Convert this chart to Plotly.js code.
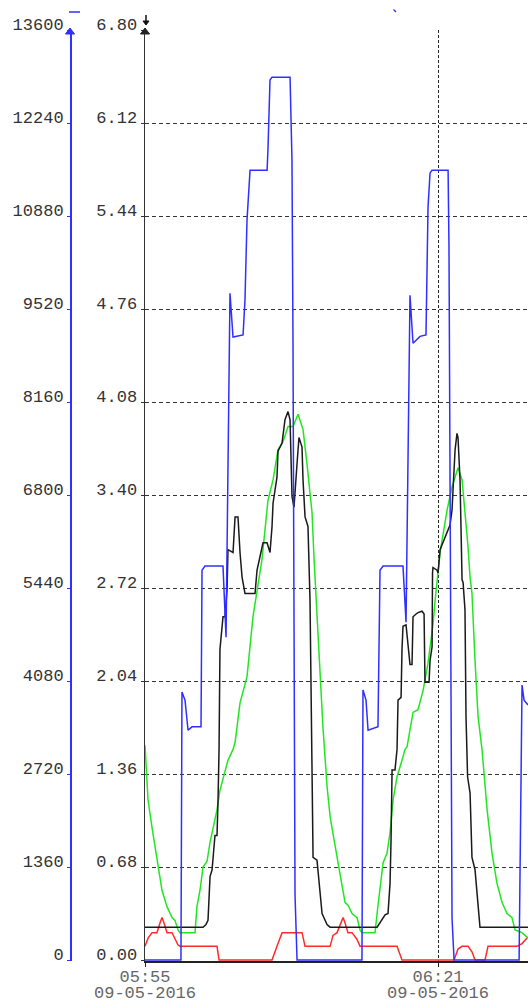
<!DOCTYPE html>
<html>
<head>
<meta charset="utf-8">
<script src="https://cdn.plot.ly/plotly-3.0.1.min.js"></script>
<style>
  html, body { margin: 0; padding: 0; background: #fff; }
  #chart { width: 528px; height: 1001px; }
</style>
</head>
<body>
<div id="chart"></div>
<script>
// Time is in minutes after 05:55 on 09-05-2016.

// Power (left, blue scale)
const powerTime = [0, 3.19, 3.28, 3.55, 3.82, 4.17, 4.97, 5.06, 5.32, 6.92, 7.19, 7.36, 7.54, 7.81, 8.70, 8.87, 9.05, 9.32, 10.83, 10.91, 11.09, 11.27, 12.87, 13.04, 13.13, 13.31, 13.49,
  19.25, 19.34, 19.61, 19.79, 20.67, 20.85, 21.12, 22.89, 23.16, 23.34, 23.51, 23.78, 24.40, 24.93, 25.02, 25.11, 25.29, 25.47, 26.89, 26.97, 27.24, 27.42,
  33.19, 33.36, 33.45, 33.63, 33.98];
const powerValue = [0, 0, 3920, 3800, 3360, 3410, 3410, 5700, 5760, 5760, 4720, 7460, 9750, 9110, 9140, 9650, 10820, 11550, 11550, 11850, 12870, 12910, 12910, 11700, 9070, 950, 0,
  0, 3950, 3800, 3360, 3410, 5700, 5760, 5760, 4940, 7460, 9720, 9020, 9120, 9140, 10190, 11010, 11510, 11550, 11550, 10430, 610, 0,
  0, 2240, 4020, 3800, 3730];

// Measured value (right, black scale)
const measTime = [0, 5.15, 5.41, 5.59, 5.77, 5.95, 6.21, 6.39, 6.48, 6.57, 6.65, 6.92, 7.10, 7.28, 7.36, 7.81, 7.99, 8.25, 8.43, 8.61, 8.87, 9.76, 9.94, 10.20, 10.47, 10.83, 11.09, 11.27, 11.36, 11.71, 11.80, 12.16, 12.42, 12.69, 12.87, 13.04, 13.22, 13.49, 13.66, 13.93, 14.02, 14.20, 14.46, 14.64, 14.82, 14.91, 15.26, 15.53, 15.71, 16.15, 16.42,
  20.59, 20.85, 21.30, 21.56, 21.74, 21.83, 21.92, 22.18, 22.36, 22.45, 22.72, 22.80, 22.89, 23.16, 23.34, 23.51, 23.69, 23.78, 24.05, 24.22, 24.58, 24.76, 24.84, 25.20, 25.29, 25.47, 25.51, 25.55, 25.91, 26.00, 26.18, 26.44, 26.80, 26.89, 27.06, 27.24, 27.33, 27.51, 27.68, 27.77, 27.95, 28.04, 28.13, 28.22, 28.39, 28.48, 28.57, 28.62, 28.84, 29.01, 29.28, 29.46, 29.72, 33.98];
const measValue = [0.24, 0.24, 0.26, 0.29, 0.61, 0.66, 0.91, 0.91, 1.17, 1.54, 2.27, 2.51, 2.51, 2.71, 3.00, 2.98, 3.24, 3.24, 2.98, 2.80, 2.68, 2.68, 2.85, 2.95, 3.05, 3.05, 2.98, 3.17, 3.34, 3.53, 3.72, 3.78, 3.95, 4.01, 3.95, 3.39, 3.31, 3.63, 3.82, 3.75, 3.51, 3.24, 3.17, 2.63, 1.59, 0.75, 0.73, 0.46, 0.34, 0.26, 0.24,
  0.24, 0.27, 0.33, 0.34, 0.56, 0.88, 1.39, 1.39, 1.54, 1.90, 1.92, 2.27, 2.44, 2.45, 2.32, 2.16, 2.16, 2.51, 2.53, 2.54, 2.55, 2.53, 2.03, 2.03, 2.19, 2.29, 2.83, 2.87, 2.85, 2.83, 3.00, 3.05, 3.12, 3.14, 3.18, 3.29, 3.42, 3.73, 3.85, 3.82, 3.51, 3.20, 2.78, 2.76, 2.56, 1.78, 1.54, 1.34, 1.22, 0.75, 0.66, 0.49, 0.24, 0.24];

// Setpoint curve (right, green)
const setTime = [0, 0.27, 0.62, 1.06, 1.51, 1.95, 2.40, 2.66, 2.93, 3.11, 4.44, 4.61, 4.88, 5.15, 5.50, 5.77, 5.95, 6.39, 6.65, 7.10, 7.36, 7.81, 7.99, 8.43, 9.05, 9.58, 10.03, 10.38, 10.91, 11.36, 11.80, 12.24, 12.69, 13.13, 13.58, 14.02, 14.37, 14.82, 15.00, 15.26, 15.53, 15.79, 16.15, 16.42, 16.77, 17.30, 17.75, 18.01, 18.37, 18.81, 19.08, 19.25,
  20.41, 20.59, 20.85, 21.12, 21.47, 21.74, 22.01, 22.36, 22.80, 23.07, 23.25, 23.78, 24.22, 24.67, 25.11, 25.55, 25.73, 26.18, 26.80, 27.24, 27.51, 27.77, 28.13, 28.39, 28.66, 28.84, 29.01, 29.28, 29.55, 29.90, 30.35, 30.79, 31.23, 31.68, 32.12, 32.56, 32.83, 33.45, 33.98];
const setValue = [1.57, 1.17, 0.97, 0.73, 0.51, 0.39, 0.31, 0.29, 0.22, 0.20, 0.20, 0.39, 0.51, 0.68, 0.72, 0.86, 0.93, 1.10, 1.24, 1.37, 1.46, 1.54, 1.59, 1.88, 2.07, 2.51, 2.76, 2.93, 3.36, 3.51, 3.73, 3.79, 3.90, 3.90, 3.99, 3.88, 3.63, 3.27, 2.93, 2.51, 2.05, 1.70, 1.27, 1.05, 0.88, 0.64, 0.42, 0.40, 0.34, 0.31, 0.22, 0.20,
  0.20, 0.34, 0.53, 0.71, 0.78, 0.93, 1.17, 1.34, 1.46, 1.54, 1.56, 1.81, 1.83, 1.97, 2.17, 2.45, 2.62, 2.98, 3.29, 3.46, 3.53, 3.60, 3.51, 3.29, 3.02, 2.80, 2.68, 2.19, 1.78, 1.54, 1.10, 0.78, 0.56, 0.42, 0.34, 0.31, 0.22, 0.20, 0.16];

// Auxiliary signal (right, red)
const auxTime = [0, 0.27, 0.62, 1.06, 1.33, 1.51, 1.69, 1.95, 2.40, 2.66, 2.93, 3.11, 6.39, 6.57, 11.27, 11.71, 12.16, 13.93, 14.20, 16.42, 16.68, 17.04, 17.48, 17.57, 17.75, 18.01, 18.37, 18.81, 19.08, 22.36, 22.80, 27.42, 27.77, 28.13, 28.66, 29.01, 29.28, 30.17, 30.43, 33.01, 33.45, 33.89];
const auxValue = [0.10, 0.16, 0.20, 0.20, 0.27, 0.31, 0.27, 0.20, 0.20, 0.15, 0.11, 0.10, 0.10, 0, 0, 0.10, 0.20, 0.20, 0.10, 0.10, 0.18, 0.20, 0.29, 0.31, 0.27, 0.20, 0.20, 0.15, 0.10, 0.10, 0, 0, 0.08, 0.10, 0.10, 0.06, 0, 0, 0.10, 0.10, 0.12, 0.16];

// Axis ticks
const valueTicks = [0, 0.68, 1.36, 2.04, 2.72, 3.40, 4.08, 4.76, 5.44, 6.12, 6.80];
const powerTicks = [0, 1360, 2720, 4080, 5440, 6800, 8160, 9520, 10880, 12240, 13600];
const timeTicks = [0, 26];
const timeLabels = ['05:55', '06:21'];
const dateLabels = ['09-05-2016', '09-05-2016'];

const W = 528, H = 1001;
const LEFT = 145, TOP = 30, ZERO = 960, BLUE_AXIS = 70;
// the frame sits one pixel under the zero level so lines resting on zero stay visible
const PX_PER_UNIT = (ZERO - TOP) / 6.8;
const VALUE_MIN = -1 / PX_PER_UNIT;
const POWER_MIN = VALUE_MIN * 13600 / 6.8;
const FRAME_BOTTOM = ZERO + 1;
const fx = p => p / W;
const fy = p => (FRAME_BOTTOM - p) / (FRAME_BOTTOM - TOP);
const FONT = 'Liberation Mono, Courier New, monospace';
const BLUE = '#2f2fff';

const line = (x, y, color, axis) => ({
  x, y, type: 'scatter', mode: 'lines', yaxis: axis,
  line: { color, width: 1.5, shape: 'linear' }, hoverinfo: 'skip'
});

const traces = [
  line(auxTime, auxValue, '#ff2a2a', 'y'),
  line(setTime, setValue, '#22e622', 'y'),
  line(measTime, measValue, '#1a1a1a', 'y'),
  line(powerTime, powerValue, BLUE, 'y2')
];

const shapes = [
  // arrowheads on the two value axes
  { type: 'path', xref: 'paper', yref: 'paper', fillcolor: '#222', line: { color: '#222', width: 1 },
    path: `M${fx(LEFT - 4.5)},${fy(34)} L${fx(LEFT)},${fy(28)} L${fx(LEFT + 4.5)},${fy(34)} Z` },
  { type: 'path', xref: 'paper', yref: 'paper', fillcolor: BLUE, line: { color: BLUE, width: 1 },
    path: `M${fx(BLUE_AXIS - 4.5)},${fy(34)} L${fx(BLUE_AXIS)},${fy(28)} L${fx(BLUE_AXIS + 4.5)},${fy(34)} Z` },
  // small down arrow above the value axis
  { type: 'line', xref: 'paper', yref: 'paper', x0: fx(LEFT + 1), x1: fx(LEFT + 1), y0: fy(15), y1: fy(24),
    line: { color: '#111', width: 1.5 } },
  { type: 'path', xref: 'paper', yref: 'paper', fillcolor: '#111', line: { color: '#111', width: 1 },
    path: `M${fx(LEFT - 2)},${fy(21)} L${fx(LEFT + 4)},${fy(21)} L${fx(LEFT + 1)},${fy(25)} Z` },
  // blue markers at the top edge
  { type: 'line', xref: 'paper', yref: 'paper', x0: fx(69), x1: fx(80), y0: fy(12), y1: fy(12),
    line: { color: BLUE, width: 1.5 } },
  { type: 'line', xref: 'paper', yref: 'paper', x0: fx(393.5), x1: fx(396), y0: fy(9.5), y1: fy(12),
    line: { color: BLUE, width: 1.2 } }
];

const annotations = timeTicks.map((t, i) => ({
  x: t, xref: 'x', y: fy(994), yref: 'paper', text: dateLabels[i], showarrow: false,
  xanchor: 'center', yanchor: 'middle', borderpad: 0,
  font: { family: FONT, size: 17, color: '#666' }
}));

const layout = {
  width: W, height: H,
  margin: { l: 0, r: 0, t: TOP, b: H - FRAME_BOTTOM, pad: 0 },
  paper_bgcolor: '#fff', plot_bgcolor: '#fff',
  showlegend: false,
  font: { family: FONT, size: 17, color: '#333' },
  xaxis: {
    domain: [LEFT / W, 1], range: [0, 33.98],
    tickmode: 'array', tickvals: timeTicks, ticktext: timeLabels,
    showgrid: true, griddash: '3px,2px', gridcolor: '#222', gridwidth: 1,
    showline: true, linecolor: '#222', linewidth: 1.5,
    ticks: 'outside', ticklen: 4, tickcolor: '#222',
    tickfont: { family: FONT, size: 17, color: '#666' },
    ticklabelstandoff: -5,
    zeroline: false, layer: 'below traces', fixedrange: true
  },
  yaxis: {
    range: [VALUE_MIN, 6.8], tickmode: 'array', tickvals: valueTicks,
    ticktext: valueTicks.map(v => v.toFixed(2)),
    showgrid: true, griddash: '4px,3px', gridcolor: '#333', gridwidth: 1,
    showline: true, linecolor: '#333', linewidth: 1.5,
    ticks: 'outside', ticklen: 3, tickcolor: '#333',
    tickfont: { family: FONT, size: 17, color: '#333' },
    ticklabelshift: -6,
    zeroline: false, layer: 'below traces', fixedrange: true
  },
  yaxis2: {
    overlaying: 'y', anchor: 'free', position: BLUE_AXIS / W, side: 'left',
    range: [POWER_MIN, 13600], tickmode: 'array', tickvals: powerTicks,
    ticktext: powerTicks.map(v => String(v)),
    showgrid: false, showline: true, linecolor: BLUE, linewidth: 1.5,
    ticks: 'outside', ticklen: 3, tickcolor: BLUE,
    tickfont: { family: FONT, size: 17, color: '#333' },
    ticklabelshift: -6,
    zeroline: false, layer: 'below traces', fixedrange: true
  },
  shapes, annotations
};

Plotly.newPlot('chart', traces, layout, { displayModeBar: false, staticPlot: true });
</script>
</body>
</html>
